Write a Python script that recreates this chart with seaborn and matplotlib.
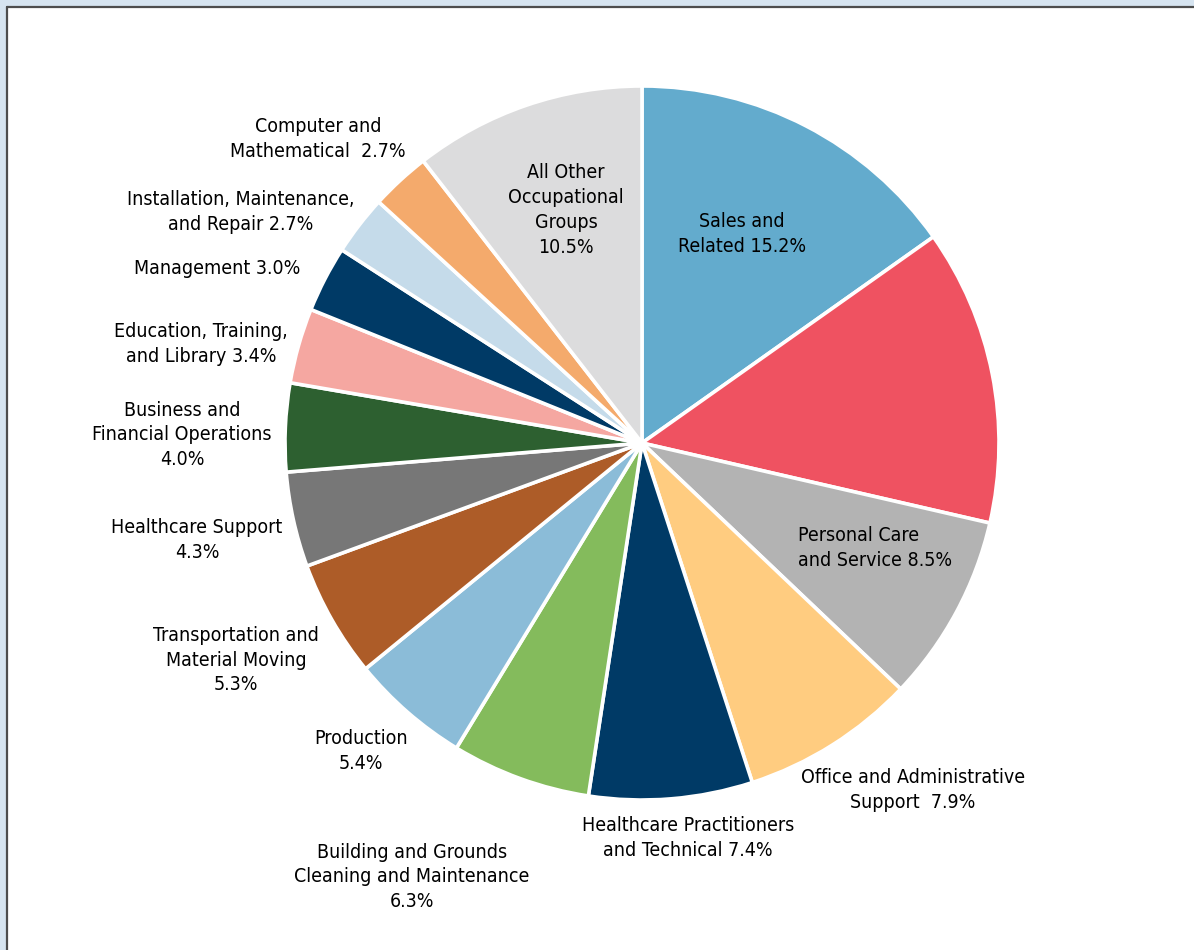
import matplotlib
matplotlib.use('Agg')
import seaborn as sns
import matplotlib.pyplot as plt
from matplotlib.patches import Rectangle
from matplotlib import font_manager

# Dados (% do emprego por grupo ocupacional), sentido horario a partir do topo
grupos = ['Sales and Related', 'Food Preparation and Serving Related', 'Personal Care and Service',
          'Office and Administrative Support', 'Healthcare Practitioners and Technical',
          'Building and Grounds Cleaning and Maintenance', 'Production',
          'Transportation and Material Moving', 'Healthcare Support',
          'Business and Financial Operations', 'Education, Training, and Library',
          'Management', 'Installation, Maintenance, and Repair', 'Computer and Mathematical',
          'All Other Occupational Groups']
valores = [15.2, 13.4, 8.5, 7.9, 7.4, 6.3, 5.4, 5.3, 4.3, 4.0, 3.4, 3.0, 2.7, 2.7, 10.5]
rotulos = ['Sales and\nRelated 15.2%', '', 'Personal Care\nand Service 8.5%',
           'Office and Administrative\nSupport  7.9%', 'Healthcare Practitioners\nand Technical 7.4%',
           'Building and Grounds\nCleaning and Maintenance\n6.3%', 'Production\n5.4%',
           'Transportation and\nMaterial Moving\n5.3%', 'Healthcare Support\n4.3%',
           'Business and\nFinancial Operations\n4.0%', 'Education, Training,\nand Library 3.4%',
           'Management 3.0%', 'Installation, Maintenance,\nand Repair 2.7%',
           'Computer and\nMathematical  2.7%', 'All Other\nOccupational\nGroups\n10.5%']
cores = ['#63abcd', '#ef5261', '#b3b3b3', '#ffcc80', '#003a66', '#84bb5c', '#8bbcd8',
         '#ad5c28', '#777777', '#2d6030', '#f5a7a1', '#003a66', '#c5dbea', '#f4aa6c', '#dcdcdd']

# posicoes dos rotulos (pixels na imagem, centro do texto) e alinhamento
pos_rotulos = [(742, 234), (0, 0), (798, 548), (913, 790), (688, 838), (412, 877), (361, 751),
               (236, 660), (197, 540), (182, 435), (201, 344), (217, 269), (241, 212),
               (318, 139), (566, 210)]
alinh = ['center', 'center', 'left'] + ['center'] * 12

sns.set_theme(style='white')
nomes = {f.name for f in font_manager.fontManager.ttflist}
fonte = 'Liberation Sans Narrow' if 'Liberation Sans Narrow' in nomes else 'DejaVu Sans'
plt.rcParams['font.family'] = [fonte, 'DejaVu Sans']

W, H = 1194, 950
fig = plt.figure(figsize=(W / 100, H / 100), dpi=100, facecolor='#d6e4f0')

# painel branco com borda escura no topo e na esquerda
fig.patches.append(Rectangle((7 / W, 0), 1, 1 - 7 / H, transform=fig.transFigure,
                             facecolor='white', edgecolor='none', zorder=-5))
fig.lines.append(plt.Line2D([6.5 / W, 1], [1 - 6.5 / H, 1 - 6.5 / H], transform=fig.transFigure,
                            color='#4d4d4d', lw=1.6, zorder=-4))
fig.lines.append(plt.Line2D([6.5 / W, 6.5 / W], [0, 1 - 6.5 / H], transform=fig.transFigure,
                            color='#4d4d4d', lw=1.6, zorder=-4))

cx, cy, r = 642, 443, 357
ax = fig.add_axes([(cx - r) / W, (H - cy - r) / H, 2 * r / W, 2 * r / H])
ax.patch.set_visible(False)
ax.pie(valores, colors=cores, startangle=90, counterclock=False, radius=1,
       wedgeprops={'edgecolor': 'white', 'linewidth': 2.6})
ax.set_xlim(-1, 1)
ax.set_ylim(-1, 1)
ax.axis('off')

for txt, (px, py), ha in zip(rotulos, pos_rotulos, alinh):
    if not txt:
        continue
    fig.text(px / W, 1 - py / H, txt, ha=ha, va='center', multialignment='center' if ha == 'center' else 'left',
             fontsize=14, fontstretch='condensed', color='#000000', linespacing=1.38)

plt.savefig('out.png', dpi=100, facecolor=fig.get_facecolor())
